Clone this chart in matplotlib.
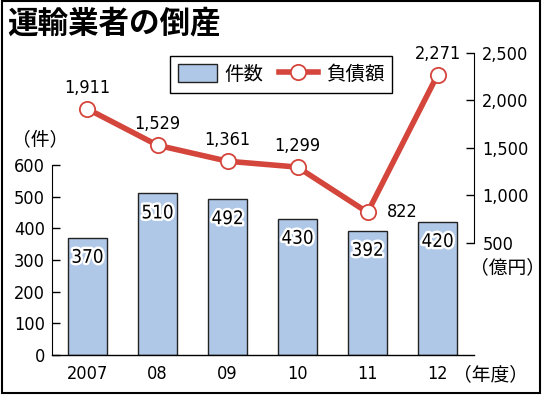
import matplotlib
matplotlib.use('Agg')
import matplotlib.pyplot as plt
import matplotlib.patheffects as pe
from matplotlib.patches import Patch, Rectangle
from matplotlib.lines import Line2D

plt.rcParams['font.family'] = ['Noto Sans CJK JP', 'DejaVu Sans']
NUM = dict(family='DejaVu Sans', fontstretch='condensed')

# data
years = ['2007', '08', '09', '10', '11', '12']
cases = [370, 510, 492, 430, 392, 420]        # 件数
debt = [1911, 1529, 1361, 1299, 822, 2271]    # 負債額 (億円)

bar_color = '#b0c8e8'
line_color = '#d4453c'

W, H = 544, 395
fig = plt.figure(figsize=(W / 100, H / 100), dpi=100)

# axes area in pixels
x0, x1 = 52, 474
yb, yt = 355, 53
ax = fig.add_axes([x0 / W, 1 - yb / H, (x1 - x0) / W, (yb - yt) / H])
ax2 = ax.twinx()

idx = list(range(len(years)))
ax.bar(idx, cases, width=0.56, color=bar_color, edgecolor='#222222', linewidth=1, zorder=2)
ax.set_xlim(-0.507, 5.52)
ax.set_ylim(0, 953.6)
ax.set_yticks([0, 100, 200, 300, 400, 500, 600])
ax.set_xticks(idx)
ax.set_xticklabels(years, fontsize=13, **NUM)
ax.tick_params(axis='x', length=0, pad=7)
ax.tick_params(axis='y', direction='in', length=6, width=1, pad=5, labelsize=13)
for lab in ax.get_yticklabels():
    lab.set_family('DejaVu Sans')
    lab.set_fontstretch('condensed')
ax.spines['left'].set_bounds(0, 600)
ax.spines['top'].set_visible(False)
ax.spines['right'].set_visible(False)
ax.spines['bottom'].set_linewidth(1)

for i, v in zip(idx, cases):
    ax.annotate(str(v), (i, v), xytext=(0, -14), textcoords='offset points',
                ha='center', va='center', fontsize=13.5, zorder=5, **NUM,
                path_effects=[pe.withStroke(linewidth=3.5, foreground='white')])

ax2.plot(idx, debt, color=line_color, linewidth=4, marker='o', markersize=11,
         markerfacecolor='white', markeredgecolor=line_color, markeredgewidth=1.3, zorder=3)
ax2.set_ylim(-679, 2500)
ax2.set_yticks([500, 1000, 1500, 2000, 2500])
ax2.set_yticklabels(['500', '1,000', '1,500', '2,000', '2,500'], **NUM)
ax2.tick_params(axis='y', direction='in', length=6, width=1, pad=6, labelsize=13)
ax2.spines['right'].set_bounds(500, 2500)
for s in ['top', 'left', 'bottom']:
    ax2.spines[s].set_visible(False)

for i, v in zip(idx, debt):
    if i == 4:
        off, ha = (14, 0), 'left'
    else:
        off, ha = (0, 15), 'center'
    ax2.annotate(f'{v:,}', (i, v), xytext=off, textcoords='offset points',
                 ha=ha, va='center', fontsize=13, **NUM)

# legend
handles = [Patch(facecolor=bar_color, edgecolor='#222222', linewidth=1),
           Line2D([], [], color=line_color, linewidth=4, marker='o', markersize=11,
                  markerfacecolor='white', markeredgecolor=line_color, markeredgewidth=1.3)]
leg = fig.legend(handles, ['件数', '負債額'], loc='upper left',
                 bbox_to_anchor=(170 / W, 1 - 56 / H), ncol=2, fontsize=14,
                 frameon=True, fancybox=False, edgecolor='black', framealpha=1,
                 borderpad=0.4, handlelength=2.0, handleheight=1.0, handletextpad=0.4,
                 columnspacing=0.8, borderaxespad=0)
leg.get_frame().set_linewidth(1)

# texts
fig.text(7 / W, 1 - 23 / H, '運輸業者の倒産', fontsize=22, fontweight='bold', va='center', ha='left')
fig.text(12 / W, 1 - 140 / H, '（件）', fontsize=13.5, va='center', ha='left')
fig.text(470 / W, 1 - 268 / H, '（億円）', fontsize=13.5, va='center', ha='left')
fig.text(453 / W, 1 - 375 / H, '（年度）', fontsize=13.5, va='center', ha='left')

# outer frame
fig.patches.append(Rectangle((2 / W, 2 / H), 538 / W, 392 / H, transform=fig.transFigure,
                             fill=False, edgecolor='black', linewidth=1.5))

fig.savefig('out.png', dpi=100)
